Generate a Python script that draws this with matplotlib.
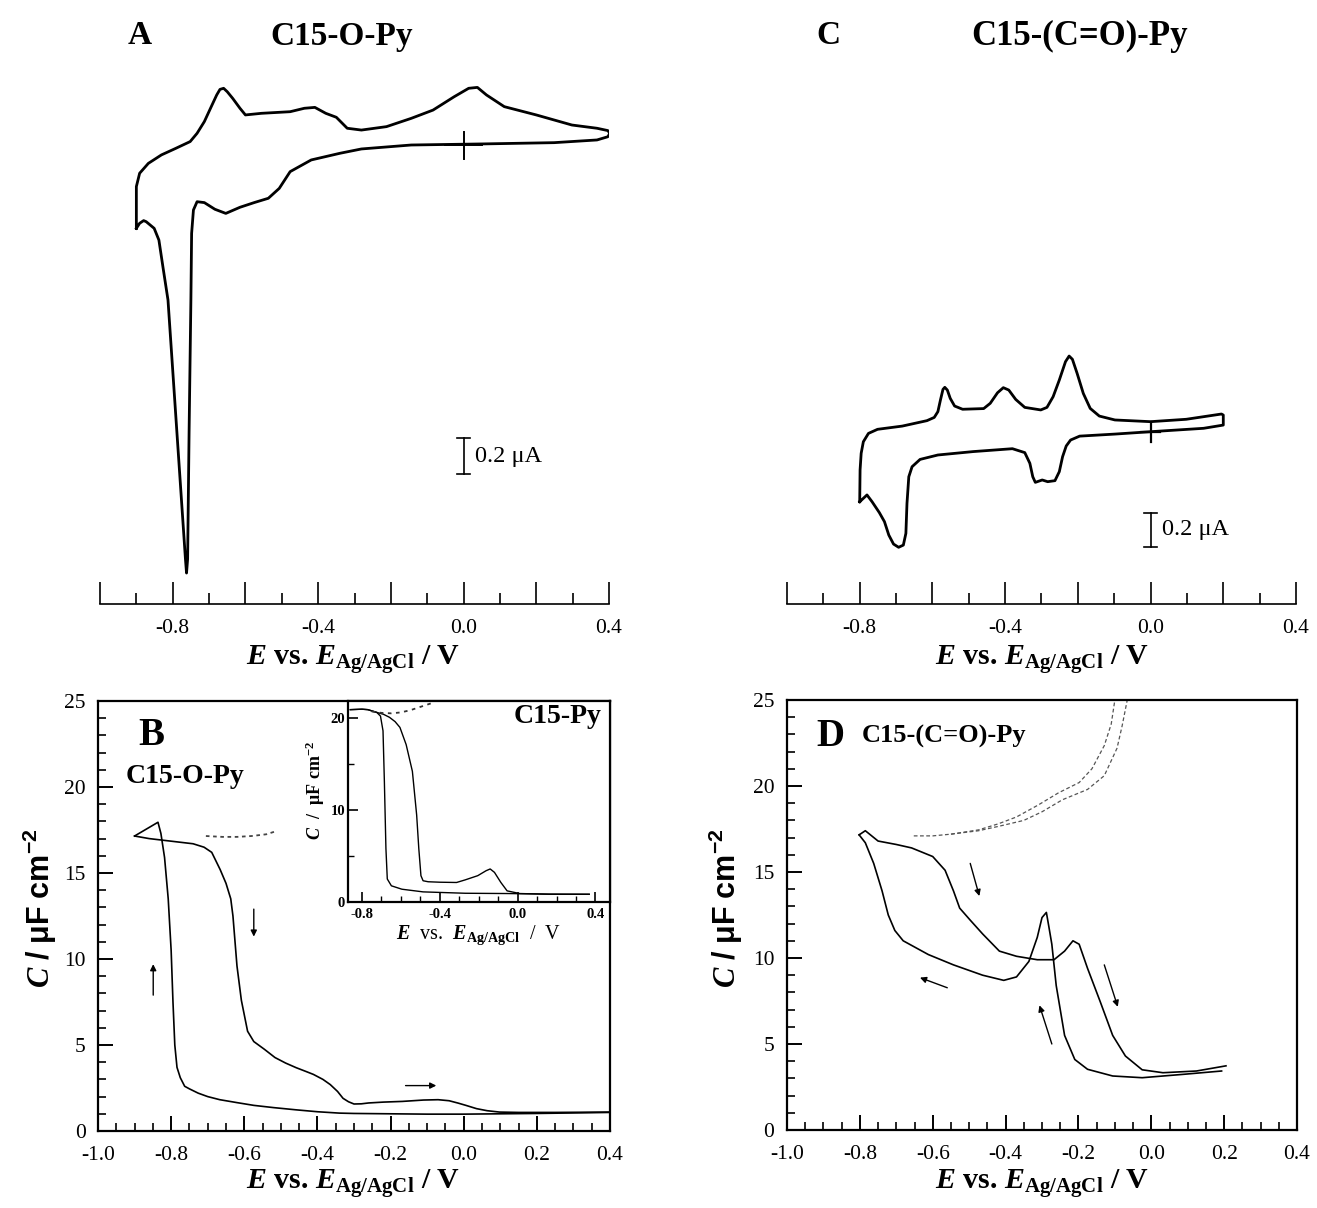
import matplotlib
matplotlib.use("Agg")
import matplotlib.pyplot as plt
from matplotlib.ticker import MultipleLocator, FuncFormatter

plt.rcParams['font.family'] = ['Liberation Serif', 'DejaVu Serif']
plt.rcParams['mathtext.fontset'] = 'custom'
plt.rcParams['mathtext.rm'] = 'Liberation Serif:bold'
plt.rcParams['mathtext.it'] = 'Liberation Serif:italic:bold'
plt.rcParams['mathtext.bf'] = 'Liberation Serif:bold'
plt.rcParams['mathtext.sf'] = 'Liberation Sans:bold'
plt.rcParams['axes.unicode_minus'] = False

# ---------------- data ----------------
# (A) cyclic voltammogram, C15-O-Py : potential / V, current / uA (closed loop)
cv_a_E = [-0.900, -0.900, -0.891, -0.867, -0.831, -0.792, -0.752, -0.733, -0.713, -0.694,
          -0.679, -0.670, -0.660, -0.650, -0.635, -0.615, -0.600, -0.556, -0.477, -0.438,
          -0.409, -0.379, -0.350, -0.320, -0.281, -0.212, -0.144, -0.084, -0.026, 0.014,
          0.038, 0.063, 0.112, 0.200, 0.298, 0.367, 0.397, 0.402, 0.397, 0.367,
          0.249, 0.053, -0.144, -0.281, -0.340, -0.419, -0.477, -0.507, -0.537, -0.576,
          -0.615, -0.654, -0.684, -0.713, -0.733, -0.743, -0.748, -0.750, -0.755, -0.759,
          -0.762, -0.765, -0.813, -0.827, -0.838, -0.851, -0.873, -0.880, -0.891, -0.900]
cv_a_I = [-0.463, -0.231, -0.157, -0.102, -0.055, -0.019, 0.019, 0.065, 0.130, 0.213,
          0.278, 0.309, 0.315, 0.296, 0.259, 0.204, 0.167, 0.176, 0.185, 0.204,
          0.209, 0.176, 0.154, 0.093, 0.083, 0.102, 0.148, 0.194, 0.268, 0.315,
          0.320, 0.278, 0.213, 0.167, 0.111, 0.093, 0.080, 0.065, 0.046, 0.028,
          0.013, 0.006, 0.000, -0.022, -0.046, -0.083, -0.148, -0.241, -0.296, -0.320,
          -0.346, -0.380, -0.357, -0.320, -0.315, -0.361, -0.491, -0.861, -1.600, -2.300,
          -2.378, -2.300, -0.861, -0.676, -0.528, -0.463, -0.426, -0.420, -0.435, -0.463]

# (C) cyclic voltammogram, C15-(C=O)-Py
cv_c_E = [-0.800, -0.799, -0.796, -0.790, -0.776, -0.751, -0.683, -0.615, -0.595, -0.585,
          -0.578, -0.571, -0.566, -0.559, -0.551, -0.539, -0.517, -0.459, -0.441, -0.421,
          -0.405, -0.390, -0.371, -0.346, -0.302, -0.285, -0.268, -0.251, -0.234, -0.224,
          -0.215, -0.202, -0.185, -0.166, -0.141, -0.098, 0.000, 0.098, 0.195, 0.200,
          0.200, 0.146, 0.000, -0.098, -0.195, -0.220, -0.232, -0.242, -0.251, -0.263,
          -0.283, -0.298, -0.317, -0.324, -0.332, -0.346, -0.380, -0.488, -0.585, -0.634,
          -0.656, -0.665, -0.670, -0.673, -0.680, -0.693, -0.707, -0.720, -0.732, -0.746,
          -0.766, -0.780, -0.790, -0.800]
cv_c_I = [-0.412, -0.225, -0.127, -0.059, -0.010, 0.014, 0.033, 0.065, 0.084, 0.118,
          0.186, 0.249, 0.261, 0.245, 0.196, 0.151, 0.132, 0.136, 0.167, 0.229,
          0.259, 0.245, 0.190, 0.143, 0.128, 0.143, 0.206, 0.304, 0.412, 0.445,
          0.426, 0.343, 0.225, 0.137, 0.092, 0.069, 0.059, 0.073, 0.104, 0.098,
          0.039, 0.020, 0.000, -0.014, -0.026, -0.049, -0.084, -0.147, -0.235, -0.288,
          -0.294, -0.284, -0.298, -0.265, -0.186, -0.123, -0.100, -0.117, -0.137, -0.163,
          -0.206, -0.265, -0.422, -0.598, -0.667, -0.680, -0.661, -0.608, -0.529, -0.476,
          -0.412, -0.372, -0.392, -0.412]

# (B) differential capacitance, C15-O-Py : positive-going and negative-going scans
b_pos_E = [-0.900, -0.860, -0.820, -0.780, -0.740, -0.710, -0.689, -0.666, -0.650, -0.637,
           -0.631, -0.620, -0.608, -0.591, -0.574, -0.545, -0.516, -0.487, -0.458, -0.430,
           -0.411, -0.385, -0.365, -0.345, -0.330, -0.315, -0.300, -0.280, -0.260, -0.220,
           -0.168, -0.110, -0.070, -0.040, -0.015, 0.006, 0.035, 0.064, 0.098, 0.150,
           0.250, 0.400]
b_pos_C = [17.15, 17.0, 16.9, 16.8, 16.7, 16.5, 16.2, 15.2, 14.4, 13.5,
           12.5, 9.6, 7.6, 5.8, 5.2, 4.75, 4.27, 3.95, 3.68, 3.45,
           3.29, 3.0, 2.7, 2.3, 1.9, 1.7, 1.57, 1.58, 1.63, 1.68,
           1.72, 1.80, 1.82, 1.76, 1.62, 1.49, 1.30, 1.18, 1.10, 1.08,
           1.08, 1.10]
b_neg_E = [0.400, 0.300, 0.200, 0.100, 0.000, -0.100, -0.200, -0.300, -0.340, -0.400,
           -0.458, -0.520, -0.574, -0.620, -0.667, -0.700, -0.726, -0.750, -0.763, -0.775,
           -0.784, -0.790, -0.795, -0.800, -0.808, -0.818, -0.828, -0.836, -0.868, -0.900]
b_neg_C = [1.08, 1.05, 1.02, 1.00, 0.98, 0.98, 1.00, 1.02, 1.04, 1.12,
           1.23, 1.36, 1.49, 1.65, 1.82, 2.0, 2.2, 2.45, 2.6, 3.1,
           3.7, 5.0, 7.5, 10.5, 13.5, 15.9, 17.3, 17.95, 17.55, 17.15]
b_bare_E = [-0.705, -0.66, -0.62, -0.58, -0.54, -0.51]
b_bare_C = [17.15, 17.1, 17.1, 17.15, 17.25, 17.45]

# (B, inset) C15-Py
in_pos_E = [-0.86, -0.80, -0.77, -0.724, -0.690, -0.659, -0.630, -0.605, -0.573, -0.541,
            -0.519, -0.508, -0.497, -0.486, -0.460, -0.400, -0.314, -0.270, -0.205, -0.162,
            -0.141, -0.119, -0.086, -0.054, 0.011, 0.162, 0.368]
in_pos_C = [20.9, 20.95, 20.9, 20.6, 20.4, 20.07, 19.6, 18.97, 17.1, 14.2,
            9.45, 5.8, 2.86, 2.31, 2.2, 2.15, 2.12, 2.4, 2.86, 3.4,
            3.59, 3.22, 2.12, 1.21, 0.92, 0.84, 0.84]
in_neg_E = [0.368, 0.162, -0.054, -0.270, -0.486, -0.595, -0.649, -0.670, -0.677, -0.685,
            -0.692, -0.705, -0.724, -0.77, -0.80, -0.86]
in_neg_C = [0.84, 0.86, 0.92, 0.95, 1.10, 1.39, 1.76, 2.5, 5.8, 13.1,
            18.6, 20.2, 20.6, 20.9, 20.95, 20.9]
in_bare_E = [-0.75, -0.70, -0.65, -0.60, -0.55, -0.50, -0.45, -0.43]
in_bare_C = [20.7, 20.55, 20.5, 20.6, 20.85, 21.2, 21.55, 21.7]

# (D) differential capacitance, C15-(C=O)-Py
d_pos_E = [-0.802, -0.785, -0.750, -0.700, -0.658, -0.600, -0.566, -0.543, -0.526, -0.497,
           -0.463, -0.417, -0.370, -0.313, -0.267, -0.238, -0.215, -0.198, -0.175, -0.140,
           -0.106, -0.071, -0.025, 0.032, 0.124, 0.205]
d_pos_C = [17.16, 17.4, 16.8, 16.6, 16.4, 15.9, 15.1, 13.9, 12.9, 12.2,
           11.4, 10.4, 10.1, 9.9, 9.9, 10.4, 11.0, 10.8, 9.4, 7.45,
           5.5, 4.3, 3.5, 3.33, 3.43, 3.73]
d_neg_E = [0.193, 0.090, -0.025, -0.106, -0.175, -0.210, -0.238, -0.261, -0.273, -0.281,
           -0.288, -0.300, -0.313, -0.336, -0.370, -0.405, -0.463, -0.543, -0.612, -0.681,
           -0.704, -0.722, -0.739, -0.762, -0.785, -0.802]
d_neg_C = [3.43, 3.24, 3.04, 3.14, 3.53, 4.1, 5.5, 8.4, 10.8, 11.8,
           12.65, 12.35, 11.2, 9.8, 8.9, 8.7, 9.0, 9.6, 10.2, 11.0,
           11.6, 12.5, 13.9, 15.5, 16.7, 17.16]
d_bare1_E = [-0.652, -0.60, -0.55, -0.474, -0.42, -0.37, -0.31, -0.255, -0.198, -0.163,
             -0.129, -0.110, -0.100]
d_bare1_C = [17.1, 17.1, 17.2, 17.45, 17.8, 18.2, 18.9, 19.6, 20.2, 21.0,
             22.35, 23.6, 25.0]
d_bare2_E = [-0.55, -0.474, -0.42, -0.35, -0.30, -0.244, -0.175, -0.129, -0.094, -0.080, -0.066]
d_bare2_C = [17.2, 17.4, 17.65, 18.0, 18.5, 19.2, 19.8, 20.6, 22.2, 23.5, 25.0]

# ---------------- layout ----------------
W, H = 1317, 1208
fig = plt.figure(figsize=(W / 100, H / 100), dpi=100)


def box(l, t, r, b):
    return [l / W, 1 - b / H, (r - l) / W, (b - t) / H]


XLAB = r'$E$ vs. $E_{\mathrm{Ag/AgCl}}$ / V'
YLAB = r'$C\ \mathsf{/\ \mu F\ cm^{-2}}$'
TICK_FS = 15.5
XLAB_FS = 21.5


def fmt1(v, pos):
    return f"{round(v, 3) + 0.0:.1f}"


def cv_axes(rect, ylim):
    ax = fig.add_axes(rect)
    ax.set_xlim(-1.0, 0.4)
    ax.set_ylim(*ylim)
    for s in ('top', 'left', 'right'):
        ax.spines[s].set_visible(False)
    ax.spines['bottom'].set_linewidth(1.2)
    ax.set_yticks([])
    ax.xaxis.set_major_locator(MultipleLocator(0.2))
    ax.xaxis.set_minor_locator(MultipleLocator(0.1))

    def lab(v, pos):
        q = v / 0.4
        if abs(q - round(q)) < 1e-6 and v > -0.95:
            return fmt1(v, pos)
        return ''
    ax.xaxis.set_major_formatter(FuncFormatter(lab))
    ax.tick_params(axis='x', which='major', direction='in', length=16, width=1.2,
                   labelsize=TICK_FS, pad=11)
    ax.tick_params(axis='x', which='minor', direction='in', length=8, width=1.2)
    ax.patch.set_alpha(0)
    return ax


def scale_bar(ax, x, y0, dx):
    ax.plot([x, x], [y0, y0 + 0.2], color='black', lw=1.2)
    ax.plot([x - dx, x + dx], [y0, y0], color='black', lw=1.2)
    ax.plot([x - dx, x + dx], [y0 + 0.2, y0 + 0.2], color='black', lw=1.2)
    ax.text(x + 0.032, y0 + 0.1, '0.2 \u03bcA', fontsize=17.5, va='center', ha='left')


# ---- A ----
axA = cv_axes(box(100, 70, 609, 604), ((145 - 604) / 180, (145 - 70) / 180))
axA.plot(cv_a_E, cv_a_I, color='black', lw=2.0, solid_joinstyle='round')
axA.plot([-0.05, 0.05], [0, 0], color='black', lw=1.4)
axA.plot([0, 0], [-0.075, 0.075], color='black', lw=1.4)
scale_bar(axA, 0.0, -1.828, 0.019)
fig.text(353 / W, 1 - 659 / H, XLAB, fontsize=XLAB_FS, fontweight='bold', ha='center', va='center')
fig.text(140 / W, 1 - 36 / H, 'A', fontsize=24, fontweight='bold', ha='center', va='center')
fig.text(342 / W, 1 - 36 / H, 'C15-O-Py', fontsize=24, fontweight='bold', ha='center', va='center')

# ---- C ----
axC = cv_axes(box(787, 70, 1296, 604), ((431.7 - 604) / 170, (431.7 - 70) / 170))
axC.plot(cv_c_E, cv_c_I, color='black', lw=2.0, solid_joinstyle='round')
axC.plot([-0.027, 0.027], [0, 0], color='black', lw=1.6)
axC.plot([0, 0], [-0.06, 0.06], color='black', lw=1.6)
scale_bar(axC, 0.0, -0.678, 0.019)
fig.text(1042 / W, 1 - 659 / H, XLAB, fontsize=XLAB_FS, fontweight='bold', ha='center', va='center')
fig.text(828 / W, 1 - 36 / H, 'C', fontsize=24, fontweight='bold', ha='center', va='center')
fig.text(1080 / W, 1 - 36 / H, 'C15-(C=O)-Py', fontsize=25, fontweight='bold', ha='center', va='center')


# ---- capacitance panels ----
def cap_axes(rect):
    ax = fig.add_axes(rect)
    ax.set_xlim(-1.0, 0.4)
    ax.set_ylim(0, 25)
    for s in ax.spines.values():
        s.set_linewidth(1.6)
    ax.xaxis.set_major_locator(MultipleLocator(0.2))
    ax.xaxis.set_minor_locator(MultipleLocator(0.05))
    ax.yaxis.set_major_locator(MultipleLocator(5))
    ax.yaxis.set_minor_locator(MultipleLocator(1))
    ax.xaxis.set_major_formatter(FuncFormatter(fmt1))
    ax.yaxis.set_major_formatter(FuncFormatter(lambda v, p: f"{int(round(v))}"))
    ax.tick_params(which='major', direction='in', length=11, width=1.4,
                   labelsize=TICK_FS, top=False, right=False)
    ax.tick_params(which='minor', direction='in', length=6, width=1.2, top=False, right=False)
    ax.tick_params(axis='x', which='major', pad=11)
    ax.tick_params(axis='y', which='major', pad=9)
    return ax


def arrow(ax, tail, head):
    ax.annotate('', xy=head, xytext=tail,
                arrowprops=dict(arrowstyle='-|>', lw=1.0, color='black',
                                mutation_scale=9, shrinkA=0, shrinkB=0))


# ---- B ----
axB = cap_axes(box(98, 701, 610, 1131))
axB.plot(b_pos_E, b_pos_C, color='black', lw=1.2)
axB.plot(b_neg_E, b_neg_C, color='black', lw=1.2)
axB.plot(b_bare_E, b_bare_C, color='#444444', lw=1.3, ls=(0, (2, 2)))
arrow(axB, (-0.574, 12.9), (-0.574, 11.3))
arrow(axB, (-0.849, 7.9), (-0.849, 9.7))
arrow(axB, (-0.159, 2.64), (-0.075, 2.64))
axB.text(-0.89, 23.0, 'B', fontsize=28, fontweight='bold', ha='left', va='center')
axB.text(-0.925, 20.6, 'C15-O-Py', fontsize=20, fontweight='bold', ha='left', va='center')
fig.text(353 / W, 1 - 1184 / H, XLAB, fontsize=XLAB_FS, fontweight='bold', ha='center', va='center')
fig.text(40 / W, 1 - 908 / H, YLAB, fontsize=22, rotation=90, ha='center', va='center')

# inset
axI = fig.add_axes(box(348, 701, 610, 902))
axI.set_xlim(-0.872, 0.475)
axI.set_ylim(0, 21.84)
for s in axI.spines.values():
    s.set_linewidth(1.6)
axI.xaxis.set_major_locator(MultipleLocator(0.4))
axI.xaxis.set_minor_locator(MultipleLocator(0.1))
axI.yaxis.set_major_locator(MultipleLocator(10))
axI.yaxis.set_minor_locator(MultipleLocator(5))
axI.xaxis.set_major_formatter(FuncFormatter(fmt1))
axI.yaxis.set_major_formatter(FuncFormatter(lambda v, p: f"{int(round(v))}"))
axI.tick_params(which='major', direction='in', length=7, width=1.2, labelsize=10.5)
axI.tick_params(axis='y', which='major', pad=2)
axI.tick_params(axis='x', which='major', pad=4)
axI.tick_params(which='minor', direction='in', length=4, width=1.0)
for t in axI.get_xticklabels() + axI.get_yticklabels():
    t.set_fontweight('bold')
axI.plot(in_pos_E, in_pos_C, color='black', lw=1.0)
axI.plot(in_neg_E, in_neg_C, color='black', lw=1.0)
axI.plot(in_bare_E, in_bare_C, color='#333333', lw=1.3, ls=(0, (2, 2.5)), clip_on=False)
axI.text(0.43, 20.2, 'C15-Py', fontsize=20, fontweight='bold', ha='right', va='center')
fig.text(479 / W, 1 - 935 / H, r'$E$  vs.  $E_{\mathrm{Ag/AgCl}}$  /  V', fontsize=14.5,
         ha='center', va='center')
fig.text(315 / W, 1 - 790 / H, r'$C\ \ \mathrm{/\ \ \mu F\ cm^{-2}}$', fontsize=13,
         rotation=90, ha='center', va='center')

# ---- D ----
axD = cap_axes(box(787, 700, 1297, 1130))
axD.plot(d_pos_E, d_pos_C, color='black', lw=1.2)
axD.plot(d_neg_E, d_neg_C, color='black', lw=1.2)
axD.plot(d_bare1_E, d_bare1_C, color='#555555', lw=0.9, ls=(0, (3, 2)))
axD.plot(d_bare2_E, d_bare2_C, color='#555555', lw=0.9, ls=(0, (3, 2)))
arrow(axD, (-0.497, 15.5), (-0.472, 13.6))
arrow(axD, (-0.560, 8.27), (-0.635, 8.86))
arrow(axD, (-0.129, 9.6), (-0.092, 7.16))
arrow(axD, (-0.273, 5.0), (-0.307, 7.25))
axD.text(-0.92, 22.9, 'D', fontsize=28, fontweight='bold', ha='left', va='center')
axD.text(-0.795, 22.9, 'C15-(C=O)-Py', fontsize=19, fontweight='bold', ha='left', va='center')
fig.text(1042 / W, 1 - 1184 / H, XLAB, fontsize=XLAB_FS, fontweight='bold', ha='center', va='center')
fig.text(726 / W, 1 - 908 / H, YLAB, fontsize=22, rotation=90, ha='center', va='center')

fig.savefig('out.png', dpi=100)
